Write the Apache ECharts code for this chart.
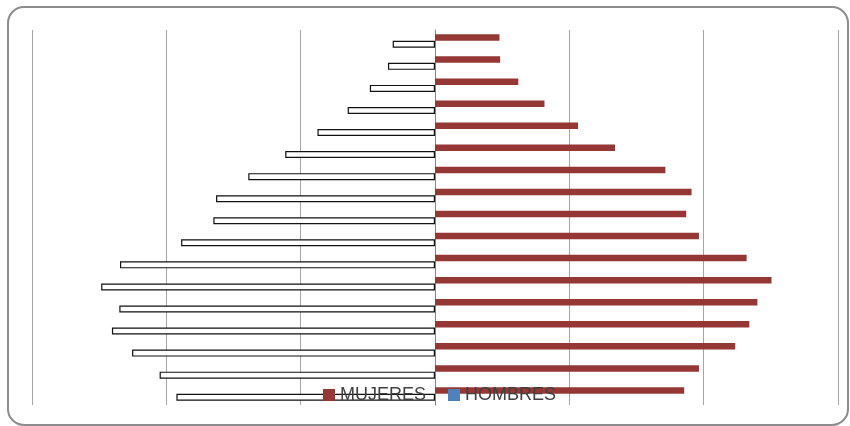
<!DOCTYPE html>
<html>
<head>
<meta charset="utf-8">
<script src="https://cdn.jsdelivr.net/npm/echarts@6/dist/echarts.min.js"></script>
<style>
html,body{margin:0;padding:0;background:#fff;}
#chart{width:850px;height:426px;}
</style>
</head>
<body>
<div id="chart"></div>
<script>
// Categories bottom -> top
const categories = ['0-4','5-9','10-14','15-19','20-24','25-29','30-34','35-39','40-44','45-49','50-54','55-59','60-64','65-69','70-74','75-79','80+'];
const mujeres = [3.71, 3.93, 4.47, 4.68, 4.80, 5.01, 4.64, 3.93, 3.74, 3.82, 3.43, 2.68, 2.13, 1.63, 1.24, 0.97, 0.96];
const hombres = [-3.85, -4.10, -4.51, -4.81, -4.70, -4.97, -4.69, -3.78, -3.30, -3.26, -2.78, -2.23, -1.75, -1.30, -0.97, -0.70, -0.63];
const legendNames = ['MUJERES', 'HOMBRES'];

const chart = echarts.init(document.getElementById('chart'), null, {renderer: 'canvas'});
chart.setOption({
  animation: false,
  backgroundColor: '#ffffff',
  graphic: [{
    type: 'rect',
    z: 0,
    shape: {x: 8, y: 7, width: 840, height: 418, r: 16},
    style: {fill: 'none', stroke: '#8c8c8c', lineWidth: 2}
  }],
  grid: {left: 32, right: 12, top: 30, bottom: 21, containLabel: false},
  legend: {
    data: [
      {name: legendNames[0], itemStyle: {color: '#953735'}},
      {name: legendNames[1], itemStyle: {color: '#4f81bd', borderWidth: 0}}
    ],
    left: 323,
    top: 386,
    padding: 0,
    itemWidth: 12,
    itemHeight: 12,
    itemGap: 22,
    icon: 'rect',
    z: 10,
    textStyle: {fontFamily: '"Liberation Sans", sans-serif', fontSize: 18, color: '#404040'}
  },
  xAxis: {
    type: 'value',
    min: -6, max: 6, interval: 2,
    axisLine: {show: false},
    axisTick: {show: false},
    axisLabel: {show: false},
    splitLine: {show: true, lineStyle: {color: '#a6a6a6', width: 1}}
  },
  yAxis: {
    type: 'category',
    data: categories,
    axisLine: {show: true, onZero: true, lineStyle: {color: '#868686', width: 1}},
    axisTick: {show: false},
    axisLabel: {show: false}
  },
  series: [
    {
      name: legendNames[0],
      type: 'bar',
      data: mujeres,
      barWidth: 6.5,
      barGap: '0%',
      z: 2,
      itemStyle: {color: '#953735'}
    },
    {
      name: legendNames[1],
      type: 'bar',
      data: hombres,
      barWidth: 7,
      barGap: '0%',
      z: 2,
      itemStyle: {color: '#ffffff', borderColor: '#111111', borderWidth: 1.2}
    }
  ]
});
</script>
</body>
</html>
